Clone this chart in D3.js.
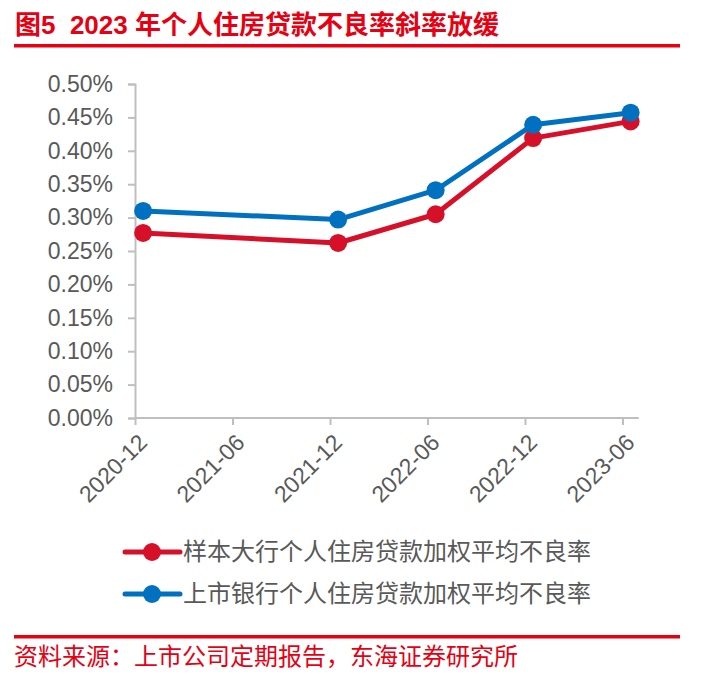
<!DOCTYPE html>
<html><head><meta charset="utf-8">
<script src="https://cdn.jsdelivr.net/npm/d3@7"></script>
<style>
body{margin:0;background:#fff;}
svg{display:block;}
</style></head>
<body>
<svg id="chart" width="725" height="679"></svg>
<script>
// ---- data ----
const periods = ["2020-12", "2021-12", "2022-06", "2022-12", "2023-06"];
const sampleBanks = [0.277, 0.262, 0.305, 0.419, 0.444];   // 样本大行
const listedBanks = [0.310, 0.297, 0.341, 0.439, 0.457];   // 上市银行
const tickLabels = ["2020-12", "2021-06", "2021-12", "2022-06", "2022-12", "2023-06"];
const yTicks = [0, 0.05, 0.10, 0.15, 0.20, 0.25, 0.30, 0.35, 0.40, 0.45, 0.50];
const seriesNames = ["样本大行个人住房贷款加权平均不良率", "上市银行个人住房贷款加权平均不良率"];
const titleText = "图5  2023 年个人住房贷款不良率斜率放缓";
const sourceText = "资料来源：上市公司定期报告，东海证券研究所";

const RED = "#d7102a", BLUE = "#0070c0", TITLE_RED = "#e60012", GREY = "#595959", AXIS = "#bfbfbf";
const FONT = "'Liberation Sans', Arial, 'Noto Sans CJK SC', sans-serif";
const CJK = "'Noto Sans CJK SC', 'Liberation Sans', sans-serif";
const TFONT = "'Liberation Sans', 'Noto Sans CJK SC', sans-serif";

// month index helpers
const base = 2020 * 12 + 11; // 2020-12
const mIdx = s => { const [y, m] = s.split("-").map(Number); return y * 12 + (m - 1) - base; };

const svg = d3.select("#chart");

// scales
const x = d3.scaleLinear().domain([0, 31]).range([135, 638.75]);
const y = d3.scaleLinear().domain([0, 0.5]).range([418, 84]);

// title
svg.append("text").attr("x", 15).attr("y", 34).style("white-space", "pre")
  .attr("font-family", TFONT).attr("font-weight", "bold").attr("font-size", 26)
  .attr("fill", TITLE_RED).text(titleText);
svg.append("rect").attr("x", 14).attr("y", 44).attr("width", 666).attr("height", 3.5).attr("fill", TITLE_RED);

// y axis
const yAxis = d3.axisLeft(y).tickValues(yTicks).tickSize(7).tickPadding(15)
  .tickFormat(d => d.toFixed(2) + "%");
const gy = svg.append("g").attr("transform", `translate(${x(0)},0)`).call(yAxis);
gy.select(".domain").attr("stroke", AXIS).attr("stroke-width", 2);
gy.selectAll(".tick line").attr("stroke", AXIS).attr("stroke-width", 2);
gy.selectAll(".tick text").attr("font-family", FONT).attr("font-size", 23).attr("fill", GREY);

// x axis
const xAxis = d3.axisBottom(x).tickValues(tickLabels.map(mIdx)).tickSize(7)
  .tickFormat((d, i) => tickLabels[i]);
const gx = svg.append("g").attr("transform", `translate(0,${y(0)})`).call(xAxis);
gx.select(".domain").attr("stroke", AXIS).attr("stroke-width", 2).attr("d", `M${x(0)},0H${x(31)}`);
gx.selectAll(".tick line").attr("stroke", AXIS).attr("stroke-width", 2);
gx.selectAll(".tick text").attr("font-family", FONT).attr("font-size", 23).attr("fill", GREY)
  .attr("text-anchor", "end").attr("dy", null).attr("y", 0)
  .attr("transform", "translate(13,26) rotate(-45)");

// lines
const line = d3.line().x((d, i) => x(mIdx(periods[i]) + 0.5)).y(d => y(d));
const series = [{vals: sampleBanks, color: RED}, {vals: listedBanks, color: BLUE}];
series.forEach(s => {
  svg.append("path").datum(s.vals).attr("d", line).attr("fill", "none")
    .attr("stroke", s.color).attr("stroke-width", 5).attr("stroke-linejoin", "round");
  svg.selectAll(null).data(s.vals).enter().append("circle")
    .attr("cx", (d, i) => x(mIdx(periods[i]) + 0.5)).attr("cy", d => y(d))
    .attr("r", 9).attr("fill", s.color);
});

// legend
const lg = svg.append("g");
[RED, BLUE].forEach((c, i) => {
  const cy = 552 + i * 42;
  lg.append("line").attr("x1", 125).attr("x2", 180).attr("y1", cy).attr("y2", cy)
    .attr("stroke", c).attr("stroke-width", 5).attr("stroke-linecap", "round");
  lg.append("circle").attr("cx", 152).attr("cy", cy).attr("r", 9).attr("fill", c);
  lg.append("text").attr("x", 183).attr("y", cy).attr("dy", "0.35em")
    .attr("font-family", CJK).attr("font-size", 24).attr("fill", GREY).text(seriesNames[i]);
});

// footer
svg.append("rect").attr("x", 14).attr("y", 635).attr("width", 666).attr("height", 3.5).attr("fill", TITLE_RED);
svg.append("text").attr("x", 14).attr("y", 665)
  .attr("font-family", CJK).attr("font-size", 24).attr("fill", TITLE_RED).text(sourceText);
</script>
</body></html>
